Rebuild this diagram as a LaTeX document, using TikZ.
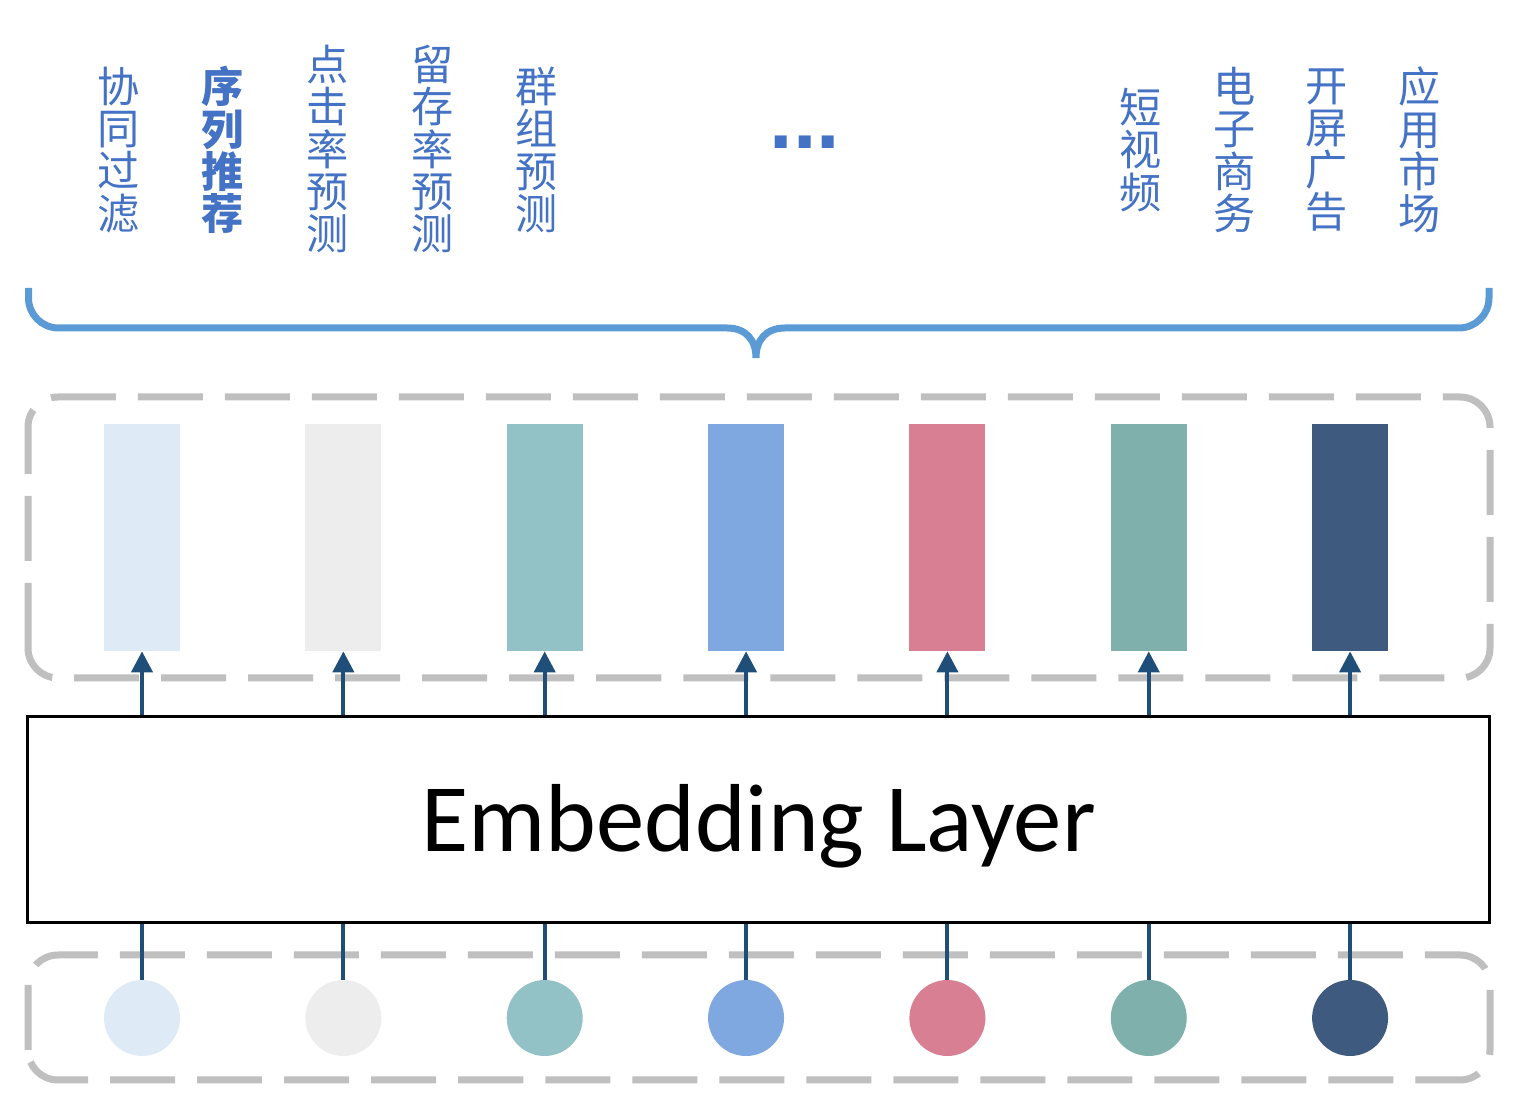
\documentclass[tikz,border=0pt]{standalone}
\usepackage{fontspec}
\setmainfont{Carlito}
\newfontfamily\cjk{Noto Sans CJK SC}
\newfontfamily\dotfont{Liberation Sans}
\usetikzlibrary{arrows.meta}
\usepackage{xcolor}

\definecolor{taskblue}{HTML}{4472C4}
\definecolor{braceblue}{HTML}{5B9BD5}
\definecolor{linkblue}{HTML}{1F4E79}
\definecolor{framegray}{HTML}{BFBFBF}
\definecolor{embA}{HTML}{DEEBF7}
\definecolor{embB}{HTML}{EDEDED}
\definecolor{embC}{HTML}{92C1C6}
\definecolor{embD}{HTML}{80A8E0}
\definecolor{embE}{HTML}{D87F93}
\definecolor{embF}{HTML}{7FB0AB}
\definecolor{embG}{HTML}{3E5B7F}

\tikzset{
    task/.style={text=taskblue, font=\cjk\fontsize{24}{24}\selectfont, align=center, inner sep=0pt},
    dashframe/.style={draw=framegray, line width=0.14cm, dash pattern=on 1.3cm off 0.44cm, rounded corners=0.6cm},
    bar/.style={minimum width=1.52cm, minimum height=4.54cm, inner sep=0pt},
    token/.style={circle, minimum size=1.52cm, inner sep=0pt},
    uparrow/.style={draw=linkblue, line width=0.08cm, -{Triangle[length=0.42cm,width=0.42cm]}},
    feedline/.style={draw=linkblue, line width=0.08cm},
    taskbrace/.style={draw=braceblue, line width=0.14cm},
    embedbox/.style={draw, line width=0.06cm, minimum width=29.22cm, minimum height=4.12cm, font=\fontsize{55}{55}\selectfont, text height=35.5pt, text depth=0pt}
}

\begin{document}
\begin{tikzpicture}
        \useasboundingbox (0,0) rectangle (30.44,22);

        % dashed frames
        \draw[dashframe] (0.56,8.44) rectangle (29.8,14.06);
        \draw[dashframe] (0.56,0.4) rectangle (29.8,2.9);

        \node[embedbox] (embed) at (15.17,5.6) {Embedding Layer};

        \foreach \i/\col in {0/embA,1/embB,2/embC,3/embD,4/embE,5/embF,6/embG}{
            \node[bar, fill=\col] (bar\i) at (2.84+4.027*\i,11.25) {};
            \node[token, fill=\col] (tok\i) at (2.84+4.027*\i,1.64) {};
            \draw[uparrow] (bar\i.south |- embed.north) -- (bar\i.south);
            \draw[feedline] (tok\i.north) -- (tok\i.north |- embed.south);
        }

        % brace
        \draw[taskbrace] (0.57,16.24) -- (0.57,16.04) arc[start angle=180,end angle=270,radius=0.6] -- (14.54,15.44)
            .. controls (14.92,15.44) and (15.12,15.2) .. (15.12,14.84)
            .. controls (15.12,15.2) and (15.32,15.44) .. (15.7,15.44) -- (29.18,15.44)
            arc[start angle=270,end angle=360,radius=0.6] -- (29.78,16.24);

        % tasks
        \node[task] (cf) at (2.38,19.0) {协\\同\\过\\滤};
        \node[task, font=\cjk\bfseries\fontsize{24}{24}\selectfont] (seq) at (4.46,19.0) {序\\列\\推\\荐};
        \node[task] (ctr) at (6.56,19.02) {点\\击\\率\\预\\测};
        \node[task] (ret) at (8.66,19.02) {留\\存\\率\\预\\测};
        \node[task] (grp) at (10.74,19.0) {群\\组\\预\\测};
        \node[text=taskblue, font=\dotfont\bfseries\fontsize{48}{48}\selectfont, anchor=base, inner sep=0pt] (more) at (16.1,19.02) {...};
        \node[task] (video) at (22.82,19.0) {短\\视\\频};
        \node[task] (shop) at (24.7,19.0) {电\\子\\商\\务};
        \node[task] (splash) at (26.54,19.0) {开\\屏\\广\\告};
        \node[task] (store) at (28.4,19.0) {应\\用\\市\\场};
    \end{tikzpicture}
\end{document}
